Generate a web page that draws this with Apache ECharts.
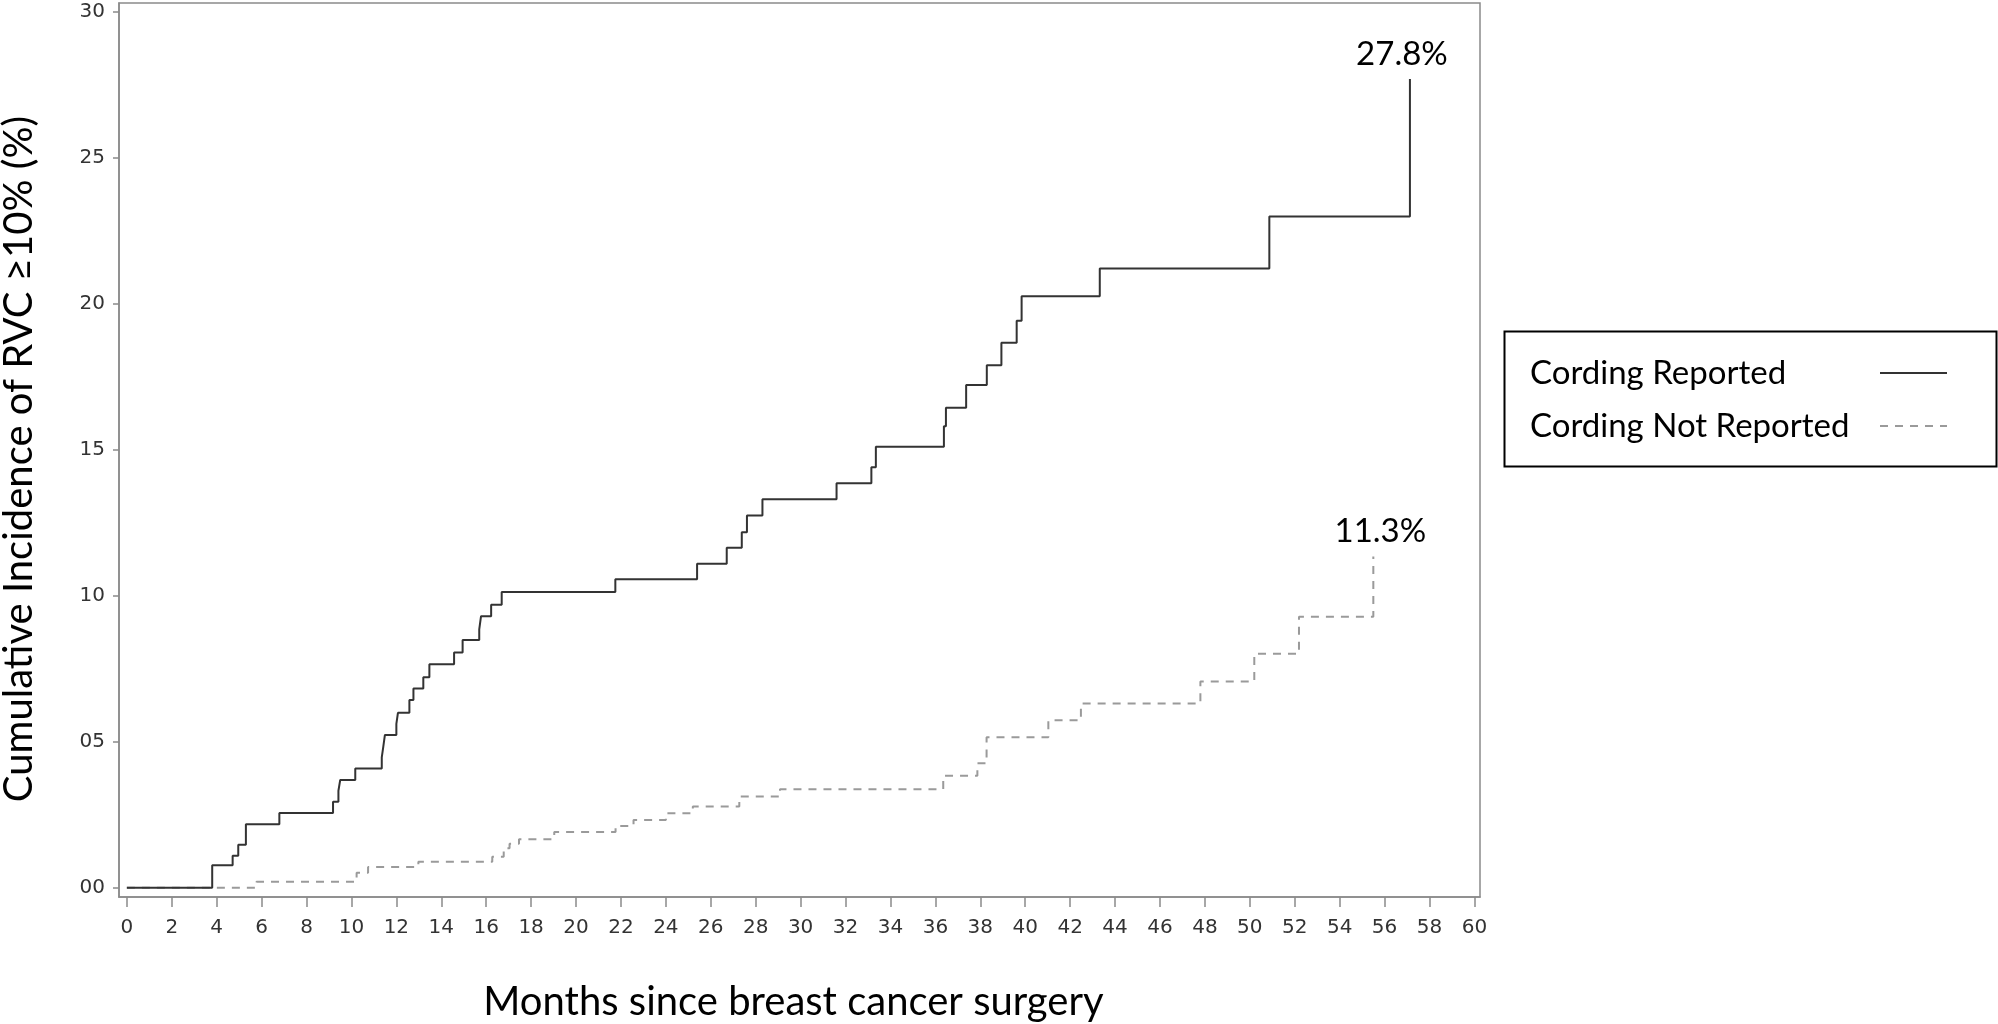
<!DOCTYPE html>
<html>
<head>
<meta charset="utf-8">
<script src="https://cdn.jsdelivr.net/npm/echarts@6/dist/echarts.min.js"></script>
<style>html,body{margin:0;padding:0;background:#fff;}#chart{width:1998px;height:1024px;}</style>
</head>
<body>
<div id="chart"></div>
<script>
// ---- data ----
var seriesNames = ['Cording Reported', 'Cording Not Reported'];
var cordingReported = [
  [0,0],[3.8,0.77],[4.71,1.09],[4.96,1.47],[5.3,2.17],[6.79,2.56],[9.18,2.94],[9.42,3.32],[9.5,3.69],
  [10.17,4.08],[11.35,4.46],[11.42,4.84],[11.49,5.23],[12.0,5.61],[12.07,5.99],[12.58,6.43],[12.76,6.82],
  [13.2,7.21],[13.47,7.65],[14.57,8.05],[14.95,8.48],[15.69,8.85],[15.77,9.3],[16.22,9.69],[16.69,10.13],
  [21.75,10.56],[25.39,11.09],[26.71,11.64],[27.38,12.17],[27.61,12.75],[28.3,13.3],[31.6,13.85],
  [33.15,14.4],[33.35,15.1],[36.38,15.8],[36.47,16.44],[37.37,17.22],[38.29,17.89],[38.94,18.66],
  [39.62,19.42],[39.84,20.26],[43.32,21.21],[50.87,22.99],[57.13,27.7]
];
var cordingNotReported = [
  [0,0],[5.77,0.2],[10.23,0.51],[10.74,0.71],[12.98,0.89],[16.27,1.06],[16.78,1.35],[17.04,1.5],
  [17.46,1.66],[19.03,1.91],[21.76,2.11],[22.56,2.32],[24.0,2.55],[25.2,2.78],[27.27,3.12],[29.08,3.37],
  [36.35,3.83],[37.87,4.26],[38.28,5.15],[41.03,5.73],[42.48,6.31],[47.8,7.06],[50.2,8.01],[52.19,9.28],
  [55.5,11.34]
];
var endLabels = ['27.8%', '11.3%'];
var xTicks = [0,2,4,6,8,10,12,14,16,18,20,22,24,26,28,30,32,34,36,38,40,42,44,46,48,50,52,54,56,58,60];
var yTicks = [0,5,10,15,20,25,30];
var yTickLabels = ['00','05','10','15','20','25','30'];
var xTitle = 'Months since breast cancer surgery';
var yTitle = 'Cumulative Incidence of RVC \u226510% (%)';

// ---- build ----
var tickFont = "'DejaVu Sans', 'Liberation Sans', sans-serif";
var titleFont = "Lato, 'Open Sans', sans-serif";

function endMark(arr, text, offset) {
  return {
    silent: true,
    symbol: 'circle', symbolSize: 1,
    itemStyle: {color: 'rgba(0,0,0,0)'},
    label: {show: true, position: 'top', distance: 8, offset: offset, formatter: text,
      fontFamily: titleFont, fontSize: 33, color: '#000'},
    data: [{coord: arr[arr.length - 1]}]
  };
}

var chart = echarts.init(document.getElementById('chart'));
chart.setOption({
  animation: false,
  backgroundColor: '#fff',
  grid: {left: 119, top: 3, width: 1361, height: 894, show: true, borderColor: '#8a8a8a', borderWidth: 1.5,
    containLabel: false, outerBoundsMode: 'none'},
  xAxis: {
    type: 'value', min: -0.35, max: 60.25,
    name: xTitle, nameLocation: 'middle', nameGap: 85,
    nameTextStyle: {fontFamily: titleFont, fontSize: 40, color: '#000', padding: [0, 12, 0, 0]},
    axisLine: {show: true, onZero: false, lineStyle: {color: '#8a8a8a', width: 1.5}},
    axisTick: {show: true, length: 10, customValues: xTicks, lineStyle: {color: '#8a8a8a', width: 1.5}},
    axisLabel: {customValues: xTicks, margin: 21, fontFamily: tickFont, fontSize: 20, color: '#333'},
    splitLine: {show: false}
  },
  yAxis: {
    type: 'value', min: -0.32, max: 30.3,
    name: yTitle, nameLocation: 'middle', nameGap: 80, nameRotate: 90,
    nameTextStyle: {fontFamily: titleFont, fontSize: 40, color: '#000', padding: [0, 18, 0, 0]},
    axisLine: {show: true, onZero: false, lineStyle: {color: '#8a8a8a', width: 1.5}},
    axisTick: {show: true, length: 6, customValues: yTicks, lineStyle: {color: '#8a8a8a', width: 1.5}},
    axisLabel: {customValues: yTicks, margin: 14, fontFamily: tickFont, fontSize: 20, color: '#333',
      formatter: function (v) { var i = yTicks.indexOf(v); return i >= 0 ? yTickLabels[i] : ''; }},
    splitLine: {show: false}
  },
  legend: {
    orient: 'vertical', left: 1530, top: 353, padding: 0, align: 'right',
    itemWidth: 67, itemHeight: 14, itemGap: 13,
    itemStyle: {opacity: 0},
    formatter: function (name) { return '{t|' + name + '}'; },
    textStyle: {width: 345, lineHeight: 40, fontFamily: titleFont, fontSize: 33, color: '#000',
      rich: {t: {align: 'left', fontFamily: titleFont, fontSize: 33, color: '#000', lineHeight: 40}}},
    data: seriesNames
  },
  graphic: [{
    type: 'rect', left: 1502, top: 329,
    shape: {width: 492, height: 135},
    style: {fill: 'none', stroke: '#000', lineWidth: 2}
  }],
  series: [
    {
      name: seriesNames[0], type: 'line', step: 'end', symbol: 'none',
      lineStyle: {color: '#333', width: 2},
      itemStyle: {color: '#333'},
      data: cordingReported,
      markPoint: endMark(cordingReported, endLabels[0], [-8, 0]),
      z: 3
    },
    {
      name: seriesNames[1], type: 'line', step: 'end', symbol: 'none',
      lineStyle: {color: '#9a9a9a', width: 2, type: [8, 7]},
      itemStyle: {color: '#9a9a9a'},
      data: cordingNotReported,
      markPoint: endMark(cordingNotReported, endLabels[1], [7, 0]),
      z: 2
    }
  ]
});
</script>
</body>
</html>
